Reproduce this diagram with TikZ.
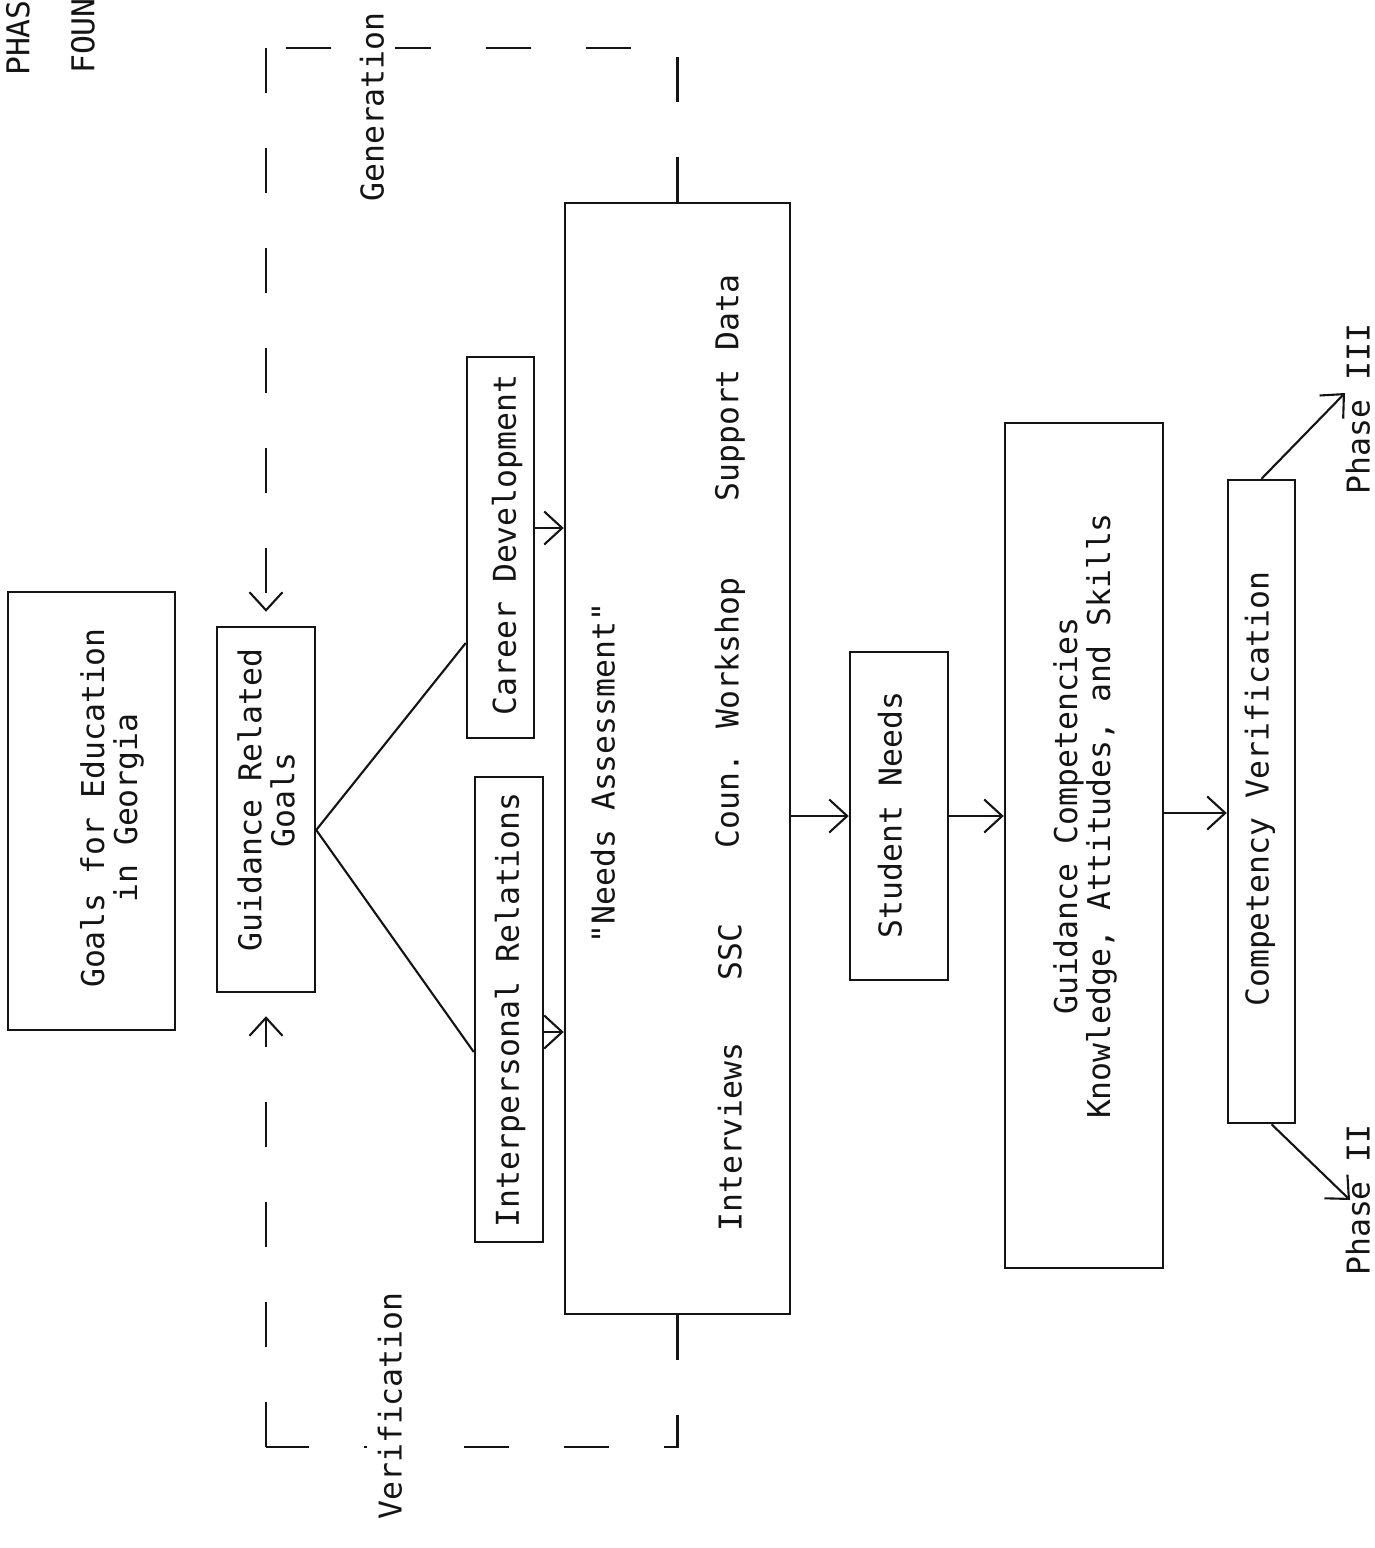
\documentclass[tikz,border=0pt]{standalone}
\usepackage{fontspec}
\setmainfont{DejaVu Sans Mono}
\usetikzlibrary{positioning, calc, arrows.meta, fit}
\definecolor{ink}{RGB}{20,20,20}
\tikzset{
  box/.style={draw=ink,line width=1.4pt,inner sep=0pt},
  txt/.style={rotate=90,align=center,text=ink,inner sep=0pt,
    font=\fontsize{17.9}{18.8}\selectfont},
  tag/.style={txt,fill=white,inner xsep=2pt,inner ysep=6pt},
  arr/.style={-{Straight Barb[length=3.6mm,width=6.6mm]},line width=1.2pt,draw=ink},
  link/.style={line width=1.2pt,draw=ink},
  dashline/.style={line width=1.4pt,draw=ink,dash pattern=on 0.9cm off 1.1cm},
}

\begin{document}
\begin{tikzpicture}[x=0.02cm,y=-0.02cm]
  \useasboundingbox (0,0) rectangle (1375,1548);
  % boxes
  \node[box,fit={(8,592)(175,1030)}] (goals) {};
  \node[box,fit={(217,627)(315,992)}] (grg) {};
  \node[box,fit={(467,357)(534,738)}] (cd) {};
  \node[box,fit={(475,777)(543,1242)}] (ir) {};
  \node[box,fit={(565,203)(790,1314)}] (needs) {};
  \node[box,fit={(850,652)(948,980)}] (student) {};
  \node[box,fit={(1005,423)(1163,1268)}] (gc) {};
  \node[box,fit={(1228,480)(1295,1123)}] (cv) {};
  % generation / verification loops
  \draw[dashline] (needs.north) |- (grg.north |- 0,48) coordinate (gcorner);
  \draw[dashline,arr,shorten >=0.28cm] (gcorner) -- (grg.north);
  \draw[dashline] (needs.south) |- (grg.south |- 0,1447) coordinate (vcorner);
  \draw[dashline,arr,shorten >=0.46cm] (vcorner) -- (grg.south);
  \node[tag] (gen) at (372,107) {Generation};
  \node[tag] (ver) at (390,1406) {Verification};
  % texts
  \node[txt] (goalst) at (112,808) {Goals for Education\\in Georgia};
  \node[txt] (grgt) at (266,800) {Guidance Related\\Goals};
  \node[txt] (cdt) at (507,545) {Career Development};
  \node[txt] (irt) at (510,1010) {Interpersonal Relations};
  \node[txt] (nat) at (603,773) {\textquotedbl Needs Assessment\textquotedbl};
  \node[txt] (intv) at (730,1137) {Interviews};
  \node[txt] (ssc) at (730,952) {SSC};
  \node[txt] (coun) at (730,713) {Coun. Workshop};
  \node[txt] (supp) at (730,388) {Support Data};
  \node[txt] (snt) at (890,815) {Student Needs};
  \node[txt] (gct) at (1085,816) {Guidance Competencies\\Knowledge, Attitudes, and Skills};
  \node[txt] (cvt) at (1260,789) {Competency Verification};
  \node[txt] (phas) at (18,38) {PHAS};
  \node[txt] (foun) at (83,36) {FOUN};
  \node[txt] (ph3) at (1358,409) {Phase III};
  \node[txt] (ph2) at (1358,1200) {Phase II};
  \coordinate (p3tip) at (1345,393);
  \coordinate (p2tip) at (1350,1200);
  \coordinate (v) at (grg.east |- 0,830);
  % goal branches
  \draw[link] (v) -- (cd.west |- 0,643);
  \draw[link] (v) -- (ir.west |- 0,1052);
  % flow
  \draw[arr] (cd.east |- 0,528) -- (needs.west |- 0,528);
  \draw[arr] (ir.east |- 0,1032) -- (needs.west |- 0,1032);
  \draw[arr] (needs.east |- student.west) -- (student.west);
  \draw[arr] (student.east) -- (gc.west |- student.east);
  \draw[arr] (gc.east |- 0,813) -- (cv.west |- 0,813);
  \draw[arr] (cv.north) -- (p3tip);
  \draw[arr] ([xshift=0.2cm]cv.south) -- (p2tip);
\end{tikzpicture}
\end{document}
